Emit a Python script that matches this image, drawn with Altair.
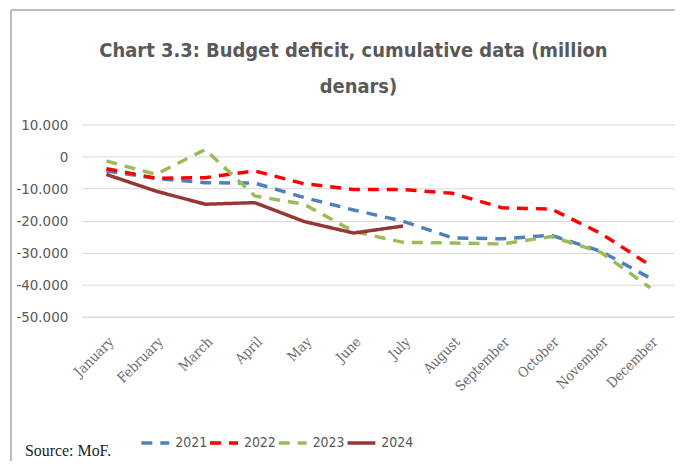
import altair as alt
import pandas as pd

months = ["January", "February", "March", "April", "May", "June", "July",
          "August", "September", "October", "November", "December"]
years = ["2021", "2022", "2023", "2024"]
v2021 = [-4500, -6800, -8200, -8300, -12800, -16700, -20200, -25400, -25700, -24600, -29600, -38000]
v2022 = [-3800, -6800, -6600, -4500, -8500, -10300, -10300, -11500, -16000, -16400, -24000, -34000]
v2023 = [-1400, -5600, 2200, -12300, -14900, -23400, -26800, -27000, -27300, -25000, -29900, -41000]
v2024 = [-5600, -10800, -14900, -14400, -20300, -23900, -21700]
colors = ["#4F81BD", "#FF0000", "#9BBB59", "#953735"]
y_ticks = [10000, 0, -10000, -20000, -30000, -40000, -50000]
title_lines = ["Chart 3.3: Budget deficit, cumulative data (million", "denars)"]

rows = []
for yr, vals in zip(years, [v2021, v2022, v2023, v2024]):
    for m, v in zip(months, vals):
        rows.append({"month": m, "year": yr, "value": v})
df = pd.DataFrame(rows)

NARROW = "Liberation Sans Narrow, DejaVu Sans Condensed, Arial Narrow, sans-serif"
SERIF = "DejaVu Serif Condensed, DejaVu Serif, serif"
TIMES = "Liberation Serif, Times New Roman, serif"

legend = alt.Legend(title=None, orient="none", legendX=58, legendY=304,
                    direction="horizontal", symbolType="stroke", symbolSize=784,
                    symbolStrokeWidth=3.5, labelFont=NARROW, labelFontSize=14,
                    labelColor="#595959", labelOffset=4, columnPadding=-17)

lines = alt.Chart(df).mark_line(strokeWidth=3.5, strokeCap="butt").encode(
    x=alt.X("month:N", sort=months, title=None,
            axis=alt.Axis(labelAngle=-45, labelFont=SERIF, labelFontSize=14,
                          labelColor="#6b6b6b", ticks=False, domainColor="#D9D9D9",
                          labelPadding=18, grid=False)),
    y=alt.Y("value:Q", title=None,
            scale=alt.Scale(domain=[-50000, 10000], nice=False, zero=False),
            axis=alt.Axis(values=y_ticks, grid=True, gridColor="#D9D9D9", domain=False,
                          ticks=False, labelFont=NARROW, labelFontSize=15,
                          labelColor="#595959", labelPadding=14,
                          labelExpr="(datum.value < 0 ? '-' : '') + replace(format(abs(datum.value), ','), ',', '.')")),
    color=alt.Color("year:N", scale=alt.Scale(domain=years, range=colors), legend=legend),
    strokeDash=alt.StrokeDash("year:N",
                              scale=alt.Scale(domain=years, range=[[11, 8], [11, 8], [11, 8], [1, 0]]),
                              legend=legend),
)

one = pd.DataFrame({"t": ["Source: MoF."]})
source = alt.Chart(one).mark_text(align="left", baseline="alphabetic", font=TIMES,
                                  fontSize=16, color="#222222").encode(
    x=alt.value(-57), y=alt.value(333), text="t:N")

t1 = alt.Chart(pd.DataFrame({"t": [title_lines[0]]})).mark_text(
    align="center", baseline="alphabetic", font=NARROW, fontSize=20, fontWeight="bold",
    color="#595959").encode(x=alt.value(273), y=alt.value(-68), text="t:N")
t2 = alt.Chart(pd.DataFrame({"t": [title_lines[1]]})).mark_text(
    align="center", baseline="alphabetic", font=NARROW, fontSize=20, fontWeight="bold",
    color="#595959").encode(x=alt.value(278), y=alt.value(-32), text="t:N")

frame_left = alt.Chart(one).mark_rule(color="#A6A6A6", strokeWidth=1.5).encode(
    x=alt.value(-71), y=alt.value(-115), y2=alt.value(345))
frame_top = alt.Chart(one).mark_rule(color="#A6A6A6", strokeWidth=1.5).encode(
    x=alt.value(-71), x2=alt.value(610), y=alt.value(-115))

chart = alt.layer(frame_left, frame_top, lines, source, t1, t2).properties(
    width=596, height=193,
    padding={"left": 74, "top": 116, "right": 0, "bottom": 144},
    autosize=alt.AutoSizeParams(type="none"),
).configure_view(stroke=None)

chart.save("out.html", embed_options={"renderer": "svg", "actions": False})
